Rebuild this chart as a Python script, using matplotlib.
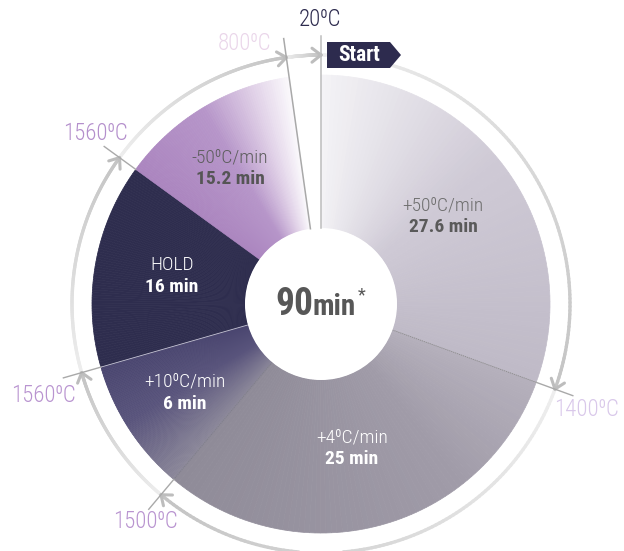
import numpy as np
import matplotlib
matplotlib.use("Agg")
import matplotlib.pyplot as plt
from matplotlib.patches import Wedge, Circle, Polygon
from matplotlib.collections import LineCollection
from matplotlib.colors import LinearSegmentedColormap

# ── Data ─────────────────────────────────────────────────────────────────────
rates     = ["+50⁰C/min", "+4⁰C/min", "+10⁰C/min", "HOLD", "-50⁰C/min"]
durations = ["27.6 min", "25 min", "6 min", "16 min", "15.2 min"]
spans_deg = [110, 110, 34, 52, 46]          # arc span of each step (clockwise)
temps     = ["20⁰C", "1400⁰C", "1500⁰C", "1560⁰C", "1560⁰C", "800⁰C"]
total_txt = ("90", "min", "*")

# ── Styling ──────────────────────────────────────────────────────────────────
W, H = 624, 551
CX, CY = 321, H - 304
R_OUT, R_IN, R_RING, R_TICK = 229, 76, 249, 268
NAVY = "#2d2b4e"

seg_stops = [
    [(0, "#f4f3f6"), (0.45, "#cfcad6"), (1, "#bfbac7")],
    [(0, "#b5b0bc"), (0.3, "#a09ba8"), (1, "#8f8b98")],
    [(0, "#8c889a"), (0.55, "#59547c"), (1, "#4a4670")],
    [(0, "#2e2d4e"), (1, "#2e2d4e")],
    [(0, "#ab85bf"), (0.5, "#b695c9"), (0.82, "#e4d6ea"), (1, "#fbf9fc")],
]
label_pos = [(443, 205), (352, 437), (185, 382), (172, 265), (230, 157)]
label_col = [("#6e6e6e", "#5a5a5a"), ("white", "white"), ("white", "white"),
             ("white", "white"), ("#5e5e5e", "#555555")]
temp_pos = [(320, 19), (587, 410), (145, 522), (43, 395), (95, 133), (245, 43)]
temp_col = [NAVY, "#d9c8ea", "#b994d0", "#b994d0", "#b48fcc", "#ead6ea"]

COND = ["Roboto Condensed", "DejaVu Sans"]


def pt(a, r):
    t = np.radians(a)
    return CX + r * np.sin(t), CY + r * np.cos(t)


fig = plt.figure(figsize=(W / 100, H / 100), dpi=100)
ax = fig.add_axes([0, 0, 1, 1])
ax.set_xlim(0, W)
ax.set_ylim(0, H)
ax.axis("off")

bounds = np.concatenate([[0], np.cumsum(spans_deg)])

# ── Gradient wedges ──────────────────────────────────────────────────────────
for i, stops in enumerate(seg_stops):
    a1, a2 = bounds[i], bounds[i + 1]
    cmap = LinearSegmentedColormap.from_list(f"s{i}", stops)
    n = 80
    edges = np.linspace(a1, a2, n + 1)
    for k in range(n):
        c = cmap((k + 0.5) / n)
        ax.add_patch(Wedge((CX, CY), R_OUT, 90 - edges[k + 1], 90 - edges[k],
                           width=R_OUT - R_IN, facecolor=c, edgecolor=c, lw=0.5))

# boundary lines inside the pie
for a, col, ls in [(bounds[1], "#8c8c8c", (0, (1.5, 1))), (bounds[2], "#7f7f88", (0, (1.5, 1))),
                   (bounds[3], "#c9c7d8", "-")]:
    p1, p2 = pt(a, R_IN), pt(a, R_OUT)
    ax.plot([p1[0], p2[0]], [p1[1], p2[1]], color=col, lw=0.6, ls=ls, zorder=3)

ax.add_patch(Circle((CX, CY), R_IN, facecolor="white", edgecolor="none", zorder=4))

# ── Outer ring with gradient arcs and arrowheads ─────────────────────────────
marks = list(bounds[1:-1]) + [bounds[-1], 360]
ring_cmap = LinearSegmentedColormap.from_list("ring", ["#eeeeee", "#c4c4c4"])
prev = 0
for a_end in marks:
    aa = np.linspace(prev, a_end, 120)
    xs, ys = pt(aa, R_RING)
    segs = np.stack([np.column_stack([xs[:-1], ys[:-1]]),
                     np.column_stack([xs[1:], ys[1:]])], axis=1)
    lc = LineCollection(segs, colors=ring_cmap(np.linspace(0, 1, len(segs))),
                        lw=2.4, capstyle="round", zorder=2)
    ax.add_collection(lc)
    # chevron pointing clockwise
    tip = np.array(pt(a_end, R_RING))
    back = np.array(pt(a_end - 2.4, R_RING))
    tang = tip - back
    tang /= np.hypot(*tang)
    rad = (tip - np.array([CX, CY])) / R_RING
    for s in (1, -1):
        q = tip - 9 * tang + s * 7 * rad
        ax.plot([q[0], tip[0]], [q[1], tip[1]], color="#bdbdbd", lw=2.2,
                solid_capstyle="round", zorder=3)
    prev = a_end

# ticks crossing the ring
for a in bounds[1:-1]:
    p1, p2 = pt(a, R_OUT), pt(a, R_TICK)
    ax.plot([p1[0], p2[0]], [p1[1], p2[1]], color="#a9a9a9", lw=1.0, zorder=3)
for a, col in [(0, "#bdbdbd"), (bounds[-1], "#a9a9a9")]:
    p1, p2 = pt(a, R_IN), pt(a, R_TICK)
    ax.plot([p1[0], p2[0]], [p1[1], p2[1]], color=col, lw=1.1, zorder=5)

# ── Start tag ────────────────────────────────────────────────────────────────
ax.add_patch(Polygon([(327, H - 42), (390, H - 42), (401, H - 55), (390, H - 68),
                      (327, H - 68)], closed=True, facecolor=NAVY, edgecolor="none",
                     zorder=6))
ax.text(359, H - 55, "Start", color="white", fontsize=15.5, fontweight="bold",
        family=COND, ha="center", va="center", zorder=7)

# ── Labels ───────────────────────────────────────────────────────────────────
for (x, y), r, d, (c1, c2) in zip(label_pos, rates, durations, label_col):
    ax.text(x, H - y, r, color=c1, fontsize=14, fontweight="light", family=COND,
            ha="center", va="center", zorder=7)
    ax.text(x, H - y - 22, d, color=c2, fontsize=14, fontweight="bold",
            family=COND, ha="center", va="center", zorder=7)

for (x, y), t, c in zip(temp_pos, temps, temp_col):
    ax.text(x, H - y, t, color=c, fontsize=16.5, fontweight="light", family=COND,
            ha="center", va="center", zorder=7)

ax.text(313, H - 315, total_txt[0], color="#575757", fontsize=27, fontweight="bold",
        family=COND, ha="right", va="baseline", zorder=7)
ax.text(313, H - 315, total_txt[1], color="#575757", fontsize=21, fontweight="bold",
        family=COND, ha="left", va="baseline", zorder=7)
ax.text(358, H - 300, total_txt[2], color="#575757", fontsize=13,
        family=COND, ha="left", va="baseline", zorder=7)

fig.savefig("out.png", dpi=100)
